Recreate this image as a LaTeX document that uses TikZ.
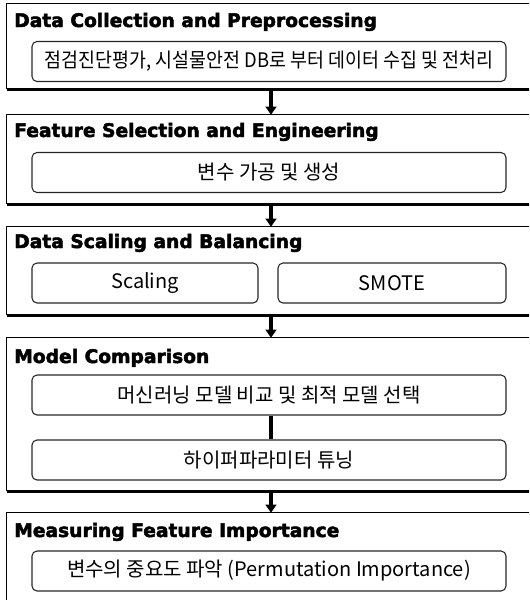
\documentclass[tikz,border=0pt]{standalone}
\usepackage{fontspec}
\setmainfont{Noto Sans CJK KR}
\newfontfamily\headfont{DejaVuSans-Bold.ttf}[FakeBold=2.5]
\usetikzlibrary{arrows.meta}
\begin{document}
\begin{tikzpicture}[x=0.75pt,y=-0.75pt,
  stage/.style={rectangle, draw=none, inner sep=0pt, minimum width=396pt},
  stagetitle/.style={anchor=base west, inner sep=0pt, font=\headfont\fontsize{14}{16}\selectfont},
  task/.style={rectangle, rounded corners=3.75pt, draw=black!85, line width=0.8pt,
    minimum height=30pt, inner sep=0pt, font=\fontsize{15}{17}\selectfont},
  wide/.style={task, minimum width=355.5pt},
  flow/.style={line width=2.6pt, -{Triangle[width=8pt,length=6pt]}},
  link/.style={line width=2.4pt},
  edgetop/.style={line width=1pt},
  edgebottom/.style={line width=2.2pt}]
\useasboundingbox (0,0) rectangle (529,600);
\clip (0,0) rectangle (529,600);

% stage frames (they run past the right margin)
\node[stage, minimum height=63.75pt]  (s1) at (271,46.5)  {};
\node[stage, minimum height=66.75pt]  (s2) at (271,159.5) {};
\node[stage, minimum height=66pt]     (s3) at (271,271)   {};
\node[stage, minimum height=114.75pt] (s4) at (271,414.5) {};
\node[stage, minimum height=80.25pt]  (s5) at (271,566.5) {};

\foreach \s in {s1,s2,s3,s4,s5}{
  \draw[edgetop] (\s.south west) |- (\s.north east);
  \draw[edgebottom] (\s.south west) -- (\s.south east);
}

% stage titles
\node[stagetitle] (t1) at (14,27)  {Data Collection and Preprocessing};
\node[stagetitle] (t2) at (14,137) {Feature Selection and Engineering};
\node[stagetitle] (t3) at (14,248) {Data Scaling and Balancing};
\node[stagetitle] (t4) at (14,363) {Model Comparison};
\node[stagetitle] (t5) at (14,537) {Measuring Feature Importance};

% tasks
\node[wide] (a1) at (269,61.5)  {\scalebox{0.92}[1]{점검진단평가, 시설물안전 DB로 부터 데이터 수집 및 전처리}};
\node[wide] (a2) at (269,172.5) {변수 가공 및 생성};
\node[task, minimum width=169.5pt] (a3) at (145,283) {Scaling};
\node[task, minimum width=171pt]   (a4) at (392,283) {SMOTE};
\node[wide] (a5) at (269,395)   {머신러닝 모델 비교 및 최적 모델 선택};
\node[wide] (a6) at (269,460)   {하이퍼파라미터 튜닝};
\node[wide] (a7) at (269,571)   {변수의 중요도 파악 (Permutation Importance)};

% flow between stages
\draw[flow] (s1.south) -- (s2.north);
\draw[flow] (s2.south) -- (s3.north);
\draw[flow] (s3.south) -- (s4.north);
\draw[flow] (s4.south) -- (s5.north);
\draw[link] (a5.south -| s4.center) -- (a6.north -| s4.center);
\end{tikzpicture}
\end{document}
